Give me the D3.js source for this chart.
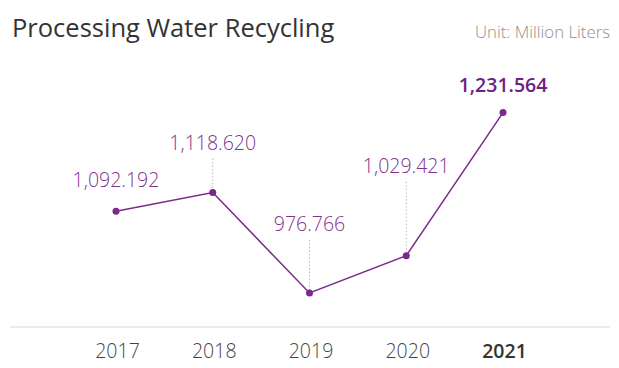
<!DOCTYPE html>
<html><head><meta charset="utf-8">
<script src="https://cdn.jsdelivr.net/npm/d3@7/dist/d3.min.js"></script>
<style>
html,body{margin:0;padding:0;background:#fff;}
svg{display:block;font-family:"Open Sans","Noto Sans",sans-serif;}
</style></head>
<body>
<svg id="chart" width="619" height="368"></svg>
<script>
const years = ["2017", "2018", "2019", "2020", "2021"];
const values = [1092.192, 1118.620, 976.766, 1029.421, 1231.564];
const title = "Processing Water Recycling";
const unitLabel = "Unit: Million Liters";

const svg = d3.select("#chart");

const x = d3.scalePoint().domain(years).range([116, 503]);
const y = d3.scaleLinear().domain([928.7, 1280]).range([327, 78.3]);

// title & unit
svg.append("text").attr("x", 12).attr("y", 37).attr("font-size", 25.5)
  .attr("fill", "#333").text(title);
svg.append("text").attr("x", 610).attr("y", 38).attr("font-size", 16.8)
  .attr("font-weight", 300)
  .attr("text-anchor", "end").attr("fill", "#8f8f8f").text(unitLabel);

// baseline
svg.append("line").attr("x1", 10).attr("x2", 610).attr("y1", 327).attr("y2", 327)
  .attr("stroke", "#d6d6d6").attr("stroke-width", 1);

// x axis labels
const last = years.length - 1;
const xAxis = d3.axisBottom(x).tickSize(0).tickPadding(0);
const gx = svg.append("g").attr("transform", "translate(0,358)").call(xAxis);
gx.select(".domain").remove();
gx.selectAll("text").attr("font-size", 19.5).attr("font-family", "'Open Sans','Noto Sans',sans-serif")
  .attr("dy", "0").attr("dx", 1)
  .attr("font-weight", d => d === years[last] ? 600 : 300)
  .attr("fill", d => d === years[last] ? "#333" : "#444");

const data = years.map((yr, i) => ({yr, v: values[i], i}));
// label lift (px above point) for each label
const lift = [24, 43, 62, 83, 21];

// dotted leaders
svg.selectAll(".lead").data(data.filter(d => lift[d.i] > 30)).enter().append("line")
  .attr("x1", d => x(d.yr)).attr("x2", d => x(d.yr))
  .attr("y1", d => y(d.v) - lift[d.i] + 9).attr("y2", d => y(d.v) - 3)
  .attr("stroke", "#bbb").attr("stroke-width", 1).attr("stroke-dasharray", "1.5,2");

// line
const line = d3.line().x(d => x(d.yr)).y(d => y(d.v));
svg.append("path").datum(data).attr("d", line).attr("fill", "none")
  .attr("stroke", "#7a2a8c").attr("stroke-width", 1.5);

// points
svg.selectAll(".pt").data(data).enter().append("circle")
  .attr("cx", d => x(d.yr)).attr("cy", d => y(d.v)).attr("r", 3.5).attr("fill", "#7a2a8c");

// value labels
const fmt = d3.format(",.3f");
svg.selectAll(".lbl").data(data).enter().append("text")
  .attr("x", d => x(d.yr)).attr("y", d => y(d.v) - lift[d.i])
  .attr("text-anchor", "middle").attr("font-size", 19.5)
  .attr("font-weight", d => d.i === last ? 600 : 300)
  .attr("fill", d => d.i === last ? "#6e2282" : "#80338f")
  .text(d => fmt(d.v));
</script>
</body></html>
